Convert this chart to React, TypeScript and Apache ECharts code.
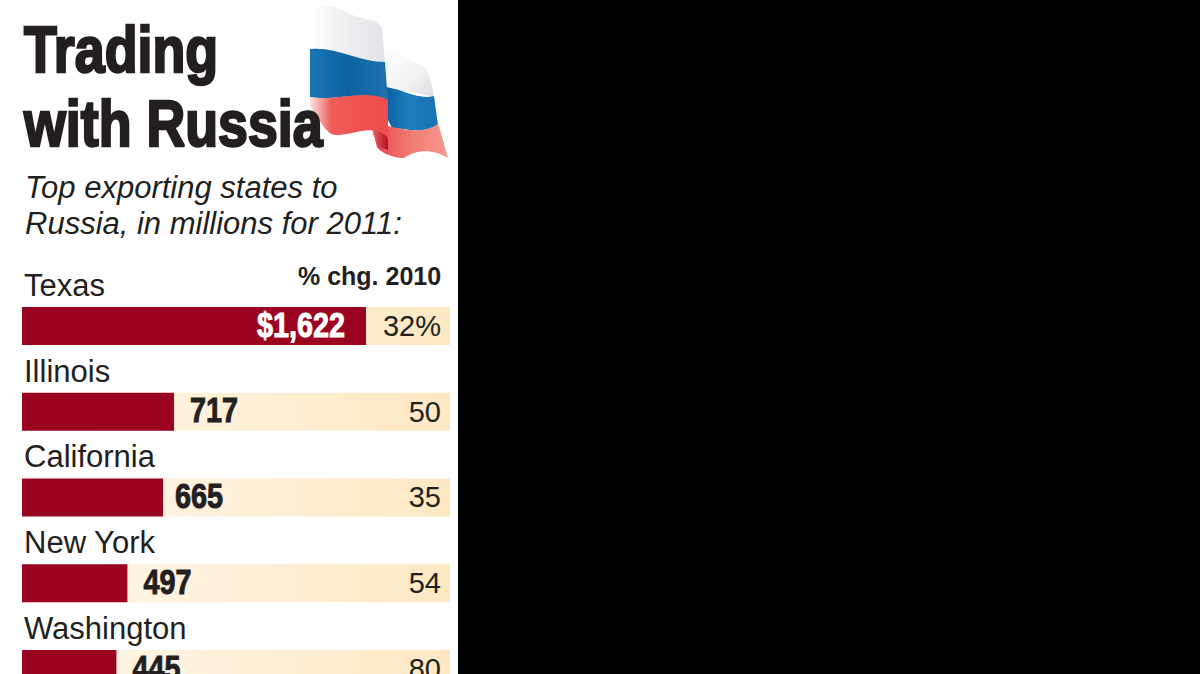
import React, { useEffect, useRef } from "react";
import * as echarts from "echarts";

const states = ["Texas", "Illinois", "California", "New York", "Washington"];
const exports2011 = [1622, 717, 665, 497, 445];
const pctChange = [32, 50, 35, 54, 80];
const axisMax = 2018;

const INK = "#231f20";
const SANS = "'Liberation Sans', Arial, sans-serif";

const shapes: Record<string, string> = {
  flagAWhite: "M310 9 C322 3 338 7 350 14 C362 20 376 17 382 28 L385 64 C362 54 335 62 310 50 Z",
  flagABlue: "M310 49 C335 46 360 62 385 62 L388 103 C365 88 335 102 310 97 Z",
  flagARed: "M310 97 C335 102 365 88 388 100 L388 138 C375 122 350 136 337 135 C325 136 318 115 310 106 Z",
  flagBWhite: "M384 52 C398 52 412 62 423 66 C430 72 432 85 434 98 C420 92 405 92 387 88 Z",
  flagBBlue: "M386 87 C405 90 418 100 434 96 L438 125 C420 135 405 128 392 128 L388 120 Z",
  flagBRed: "M372 128 C385 124 392 127 392 127 C410 131 425 133 438 124 C442 135 445 148 448 158 C432 148 415 150 404 158 C390 158 378 150 377 147 C376 140 373 134 372 128 Z",
  flagFold: "M372 128 C380 127 387 132 388 140 L388 150 C382 148 378 147 377 147 C376 140 373 134 372 128 Z",
};
Object.keys(shapes).forEach((k) => {
  echarts.graphic.registerShape(k, echarts.graphic.extendPath(shapes[k], {}) as any);
});

function lin(x: number, y: number, x2: number, y2: number, stops: [number, string][]) {
  return new echarts.graphic.LinearGradient(x, y, x2, y2, stops.map(([offset, color]) => ({ offset, color })));
}

export default function App() {
  const ref = useRef<HTMLDivElement>(null);
  useEffect(() => {
    const chart = echarts.init(ref.current!, undefined, { renderer: "svg" });
    const title = (text: string, y: number) => ({
      type: "text", x: 24, y, z: 5, scaleX: 0.84,
      style: { text, fill: INK, font: `bold 64px ${SANS}`, stroke: INK, lineWidth: 2.5 },
    });
    const sub = (text: string, y: number) => ({
      type: "text", x: 25, y, z: 5,
      style: { text, fill: INK, font: `italic 31px ${SANS}` },
    });
    const flag: any[] = [
      { type: "flagBWhite", style: { fill: lin(0, 0, 1, 1, [[0, "#ffffff"], [0.6, "#f1f1f3"], [1, "#dcdce0"]]) } },
      { type: "flagBBlue", style: { fill: lin(0, 0, 1, 0, [[0, "#0a5f9f"], [0.4, "#1c7cbb"], [1, "#1a74b5"]]) } },
      { type: "flagBRed", style: { fill: lin(0, 0, 1, 0, [[0, "#e8434a"], [0.5, "#f17a72"], [1, "#f59a90"]]) } },
      { type: "flagFold", style: { fill: lin(0, 0, 1, 0, [[0, "#f1686a"], [1, "#b30d25"]]) } },
      { type: "flagAWhite", style: { fill: lin(0, 0, 1, 0, [[0, "#ffffff"], [0.5, "#eeeef1"], [1, "#e4e4e8"]]) } },
      { type: "flagABlue", style: { fill: lin(0, 0, 1, 0, [[0, "#1a75b8"], [0.5, "#0d639f"], [1, "#1d72b2"]]) } },
      { type: "flagARed", style: { fill: lin(0, 0, 1, 0, [[0, "#fde4e0"], [0.28, "#ef5a57"], [1, "#ee4d4c"]]) } },
    ].map((e) => ({ ...e, x: 0, y: 0, z: 2 }));
    chart.setOption({
      animation: false,
      backgroundColor: "#000000",
      graphic: [
        { type: "rect", z: -1, shape: { x: 0, y: 0, width: 458, height: 760 }, style: { fill: "#ffffff" } },
        ...flag,
        title("Trading", 18),
        title("with Russia", 92),
        sub("Top exporting states to", 172),
        sub("Russia, in millions for 2011:", 208),
        { type: "text", x: 298, y: 263, z: 5, style: { text: "% chg. 2010", fill: INK, font: `bold 25px ${SANS}` } },
      ],
      grid: { left: 22, top: 283, width: 428, height: 428.75, containLabel: false },
      xAxis: { type: "value", min: 0, max: axisMax, show: false },
      yAxis: {
        type: "category", data: states, inverse: true,
        axisLine: { show: false }, axisTick: { show: false },
        axisLabel: {
          inside: true, margin: 2, color: INK, fontFamily: SANS, fontSize: 31,
          verticalAlign: "bottom", padding: [0, 0, 25, 0],
        },
      },
      series: [
        {
          name: "% chg. 2010", type: "bar", barWidth: 38, barGap: "-100%",
          data: states.map(() => axisMax),
          itemStyle: { color: lin(0, 0, 1, 0, [[0, "#fff8ee"], [1, "#fde8c2"]]) },
          label: {
            show: true, position: "insideRight", distance: 9, color: INK, fontFamily: SANS, fontSize: 29,
            formatter: (p: any) => pctChange[p.dataIndex] + (p.dataIndex === 0 ? "%" : ""),
          },
          silent: true,
        },
        {
          name: "Exports", type: "bar", barWidth: 38, barGap: "-100%",
          data: exports2011,
          itemStyle: { color: "#9b0420" },
        },
        {
          name: "Export labels", type: "custom", clip: false, z: 4,
          data: exports2011.map((v, i) => [v, i]),
          encode: { x: 0, y: 1 },
          renderItem: (params: any, api: any) => {
            const value = api.value(0);
            const p = api.coord([value, api.value(1)]);
            const first = params.dataIndex === 0;
            const gap = first ? -21 : params.dataIndex === 2 ? 12 : 16;
            const color = first ? "#ffffff" : INK;
            return {
              type: "text", x: p[0] + gap, y: p[1] - 2, scaleX: 0.8,
              style: {
                text: first ? "$" + value.toLocaleString("en-US") : String(value),
                fill: color, stroke: color, lineWidth: 1,
                font: `bold 36px ${SANS}`,
                textAlign: first ? "right" : "left", textVerticalAlign: "middle",
              },
            };
          },
        },
      ],
    });
    return () => chart.dispose();
  }, []);
  return (
    <div style={{ position: "absolute", left: 0, top: 0, width: 1200, height: 674, overflow: "hidden" }}>
      <div ref={ref} style={{ width: 1200, height: 760 }} />
    </div>
  );
}
